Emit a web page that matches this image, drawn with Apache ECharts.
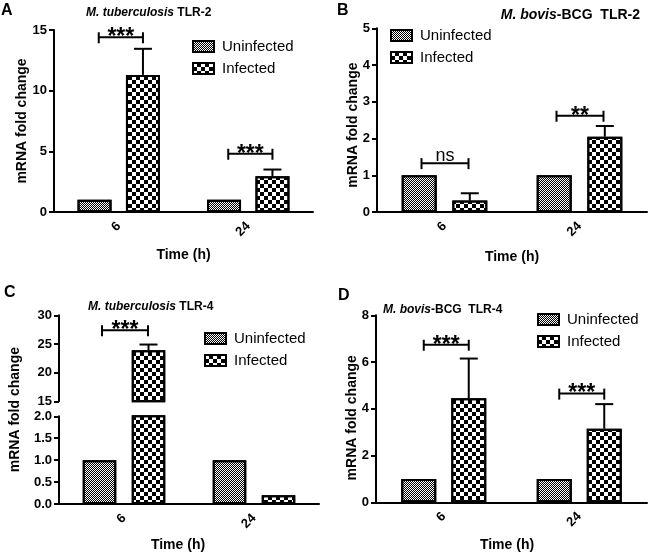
<!DOCTYPE html>
<html lang="en">
<head>
<meta charset="UTF-8">
<title>mRNA fold change</title>
<style>
  html, body { margin: 0; padding: 0; background: #fff; }
  #main { width: 650px; height: 554px; }
</style>
</head>
<body>
<div id="main"></div>
<script src="https://cdn.jsdelivr.net/npm/echarts@6/dist/echarts.min.js"></script>
<script>
// time points and groups
var categories = ['6', '24'];
var groups = ['Uninfected', 'Infected'];

// A: M. tuberculosis TLR-2
var aUninfected = [1, 1];
var aInfected = [11.3, 2.95];
var aInfectedErr = [13.45, 3.5];
var aSigLevel = [14.4, 4.8];
var aSigText = ['***', '***'];

// B: M. bovis-BCG TLR-2
var bUninfected = [1, 1];
var bInfected = [0.31, 2.05];
var bInfectedErr = [0.51, 2.34];
var bSigLevel = [1.33, 2.62];
var bSigText = ['ns', '**'];

// C: M. tuberculosis TLR-4 (broken axis)
var cUninfected = [1, 1];
var cInfected = [23.9, 0.2];
var cInfectedErr = [24.9, null];
var cSigLevel = [27.4, null];
var cSigText = ['***', null];

// D: M. bovis-BCG TLR-4
var dUninfected = [1, 1];
var dInfected = [4.45, 3.15];
var dInfectedErr = [6.15, 4.2];
var dSigLevel = [6.74, 4.65];
var dSigText = ['***', '***'];

var FONT = '"Liberation Sans", Arial, sans-serif';

// fine checker for uninfected, coarse checker for infected
var uninfDecal = { symbol: 'rect', symbolSize: 1, color: '#000',
    dashArrayX: [[1, 1], [0, 1, 1, 0]], dashArrayY: [1, 0] };
var infDecal = { symbol: 'rect', symbolSize: 1, color: '#000',
    dashArrayX: [[4, 4], [0, 4, 4, 0]], dashArrayY: [4, 0] };

var option = {
    backgroundColor: '#fff',
    animation: false,
    textStyle: { fontFamily: FONT },
    title: [], legend: [], grid: [], xAxis: [], yAxis: [], series: []
};

function addAxes(box, y, x) {
    var i = option.grid.length;
    option.grid.push(Object.assign({ containLabel: false, outerBoundsMode: 'none' }, box));
    option.xAxis.push({
        gridIndex: i, type: 'category', data: categories, show: x.show !== false,
        axisLine: { lineStyle: { color: '#000', width: 2 } },
        axisTick: { alignWithLabel: true, length: 5, lineStyle: { color: '#000', width: 2 } },
        axisLabel: { rotate: 45, margin: 12, color: '#000', fontWeight: 'bold', fontSize: 13, fontFamily: FONT },
        name: x.name || '', nameLocation: 'middle', nameGap: x.gap || 35, nameMoveOverlap: false,
        nameTextStyle: { color: '#000', fontWeight: 'bold', fontSize: 14, fontFamily: FONT, padding: x.pad || 0 }
    });
    option.yAxis.push({
        gridIndex: i, type: 'value', min: y.min, max: y.max, interval: y.interval,
        axisLine: { show: true, lineStyle: { color: '#000', width: 2 } },
        axisTick: { show: true, length: 5, lineStyle: { color: '#000', width: 2 } },
        axisLabel: { color: '#000', fontWeight: 'bold', fontSize: 13, margin: 7, fontFamily: FONT,
            formatter: y.fmt || '{value}' },
        splitLine: { show: false },
        name: y.name || '', nameLocation: 'middle', nameGap: y.gap || 20, nameMoveOverlap: false,
        nameTextStyle: { color: '#000', fontWeight: 'bold', fontSize: 14, fontFamily: FONT, padding: y.pad || 0 }
    });
    return i;
}

function addBars(ax, uninf, inf, barW, off) {
    var gap = ((2 * off - barW) / barW * 100).toFixed(1) + '%';
    option.series.push({
        type: 'bar', name: groups[0], xAxisIndex: ax, yAxisIndex: ax, data: uninf,
        barWidth: barW, barGap: gap,
        itemStyle: { color: '#fff', borderColor: '#000', borderWidth: 2, decal: uninfDecal }
    });
    option.series.push({
        type: 'bar', name: groups[1], xAxisIndex: ax, yAxisIndex: ax, data: inf,
        barWidth: barW, barGap: gap,
        itemStyle: { color: '#fff', borderColor: '#000', borderWidth: 2, decal: infDecal }
    });
}

function addErr(ax, inf, err, off) {
    var data = [];
    inf.forEach(function (v, k) { if (err[k] != null) data.push([k, v, err[k]]); });
    option.series.push({
        type: 'custom', xAxisIndex: ax, yAxisIndex: ax, data: data, silent: true, z: 3,
        encode: { x: 0, y: [1, 2] },
        renderItem: function (params, api) {
            var lo = api.coord([api.value(0), api.value(1)]);
            var hi = api.coord([api.value(0), api.value(2)]);
            var x = lo[0] + off;
            var st = { stroke: '#000', lineWidth: 2 };
            return { type: 'group', children: [
                { type: 'line', shape: { x1: x, y1: lo[1], x2: x, y2: hi[1] }, style: st },
                { type: 'line', shape: { x1: x - 9, y1: hi[1], x2: x + 9, y2: hi[1] }, style: st }
            ] };
        }
    });
}

function addSig(ax, level, text, offL, offR) {
    var data = [], labels = [];
    level.forEach(function (v, k) { if (v != null) { data.push([k, v]); labels.push(text[k]); } });
    option.series.push({
        type: 'custom', xAxisIndex: ax, yAxisIndex: ax, data: data, silent: true, z: 3,
        encode: { x: 0, y: 1 },
        renderItem: function (params, api) {
            var p = api.coord([api.value(0), api.value(1)]);
            var x1 = p[0] + offL, x2 = p[0] + offR, y = p[1];
            var st = { stroke: '#000', lineWidth: 2 };
            var lab = labels[params.dataIndex];
            var isStar = lab.charAt(0) === '*';
            return { type: 'group', children: [
                { type: 'line', shape: { x1: x1, y1: y, x2: x2, y2: y }, style: st },
                { type: 'line', shape: { x1: x1, y1: y - 5, x2: x1, y2: y + 6 }, style: st },
                { type: 'line', shape: { x1: x2, y1: y - 5, x2: x2, y2: y + 6 }, style: st },
                { type: 'text', style: {
                    text: lab, x: (x1 + x2) / 2, y: y + (isStar ? 12 : 2),
                    align: 'center', verticalAlign: 'bottom', fill: '#000',
                    font: (isStar ? 'bold 23px ' : '18px ') + FONT
                } }
            ] };
        }
    });
}

function addLegend(left, top) {
    option.legend.push({
        left: left, top: top, orient: 'vertical', padding: 0, itemGap: 7,
        itemWidth: 21, itemHeight: 11, icon: 'rect', selectedMode: false,
        data: groups,
        textStyle: { color: '#000', fontSize: 15, fontFamily: FONT, padding: [0, 0, 0, 3] }
    });
}

function addTitle(text, size, pos) {
    option.title.push(Object.assign({
        text: text, padding: 0,
        textStyle: { color: '#000', fontSize: size, fontWeight: 'bold', fontFamily: FONT,
            rich: { i: { color: '#000', fontSize: size, fontWeight: 'bold', fontStyle: 'italic', fontFamily: FONT } } }
    }, pos));
}

function addLetter(text, left, top) {
    option.title.push({ text: text, left: left, top: top, padding: 0,
        textStyle: { color: '#000', fontSize: 16, fontWeight: 'bold', fontFamily: FONT } });
}

// ---- Panel A
var ax = addAxes({ left: 54, top: 30, width: 259, height: 182 },
    { min: 0, max: 15, interval: 5, name: 'mRNA fold change', gap: 25 },
    { name: 'Time (h)', gap: 36 });
addBars(ax, aUninfected, aInfected, 34, 24.2);
addErr(ax, aInfected, aInfectedErr, 24.2);
addSig(ax, aSigLevel, aSigText, -20, 24.2);
addLegend(192, 39);
addTitle('{i|M. tuberculosis} TLR-2', 12, { left: 86, top: 7 });
addLetter('A', 1, 3);

// ---- Panel B
ax = addAxes({ left: 377, top: 28.3, width: 270, height: 183.7 },
    { min: 0, max: 5, interval: 1, name: 'mRNA fold change', gap: 17, pad: [0, 10, 0, 0] },
    { name: 'Time (h)', gap: 38 });
addBars(ax, bUninfected, bInfected, 35, 25.3);
addErr(ax, bInfected, bInfectedErr, 25.3);
addSig(ax, bSigLevel, bSigText, -23, 24);
addLegend(390, 28);
addTitle('{i|M. bovis}-BCG  TLR-2', 14, { right: 10, top: 8 });
addLetter('B', 337, 3);

// ---- Panel C (two segments)
ax = addAxes({ left: 59, top: 315.3, width: 260, height: 86 },
    { min: 15, max: 30, interval: 5 },
    { show: false });
addBars(ax, cUninfected, cInfected, 33.5, 24.5);
addErr(ax, cInfected, cInfectedErr, 24.5);
addSig(ax, cSigLevel, cSigText, -22, 24);
ax = addAxes({ left: 59, top: 416.3, width: 260, height: 87.7 },
    { min: 0, max: 2, interval: 0.5, fmt: function (v) { return v.toFixed(1); } },
    { name: 'Time (h)', gap: 34, pad: [0, 22, 0, 0] });
addBars(ax, cUninfected, cInfected, 33.5, 24.5);
// axis name spanning both segments
var cName = option.grid.length;
option.grid.push({ left: 59, top: 315.3, width: 260, height: 188.7, containLabel: false, outerBoundsMode: 'none' });
option.xAxis.push({ gridIndex: cName, type: 'category', data: categories, show: false });
option.yAxis.push({ gridIndex: cName, type: 'value', min: 0, max: 1,
    axisLine: { show: false }, axisTick: { show: false }, axisLabel: { show: false }, splitLine: { show: false },
    name: 'mRNA fold change', nameLocation: 'middle', nameGap: 37, nameMoveOverlap: false,
    nameTextStyle: { color: '#000', fontWeight: 'bold', fontSize: 14, fontFamily: FONT } });
addLegend(204, 331);
addTitle('{i|M. tuberculosis} TLR-4', 12, { left: 88, top: 301 });
addLetter('C', 4, 285);

// ---- Panel D
ax = addAxes({ left: 376, top: 315.3, width: 271, height: 187 },
    { min: 0, max: 8, interval: 2, name: 'mRNA fold change', gap: 17, pad: [0, 18, 0, 0] },
    { name: 'Time (h)', gap: 36, pad: [0, 9, 0, 0] });
addBars(ax, dUninfected, dInfected, 35, 25);
addErr(ax, dInfected, dInfectedErr, 25);
addSig(ax, dSigLevel, dSigText, -20, 25);
addLegend(537, 312);
addTitle('{i|M. bovis}-BCG  TLR-4', 12, { left: 383, top: 304 });
addLetter('D', 338, 288);

var chart = echarts.init(document.getElementById('main'), null, { renderer: 'canvas' });
chart.setOption(option);
</script>
</body>
</html>
